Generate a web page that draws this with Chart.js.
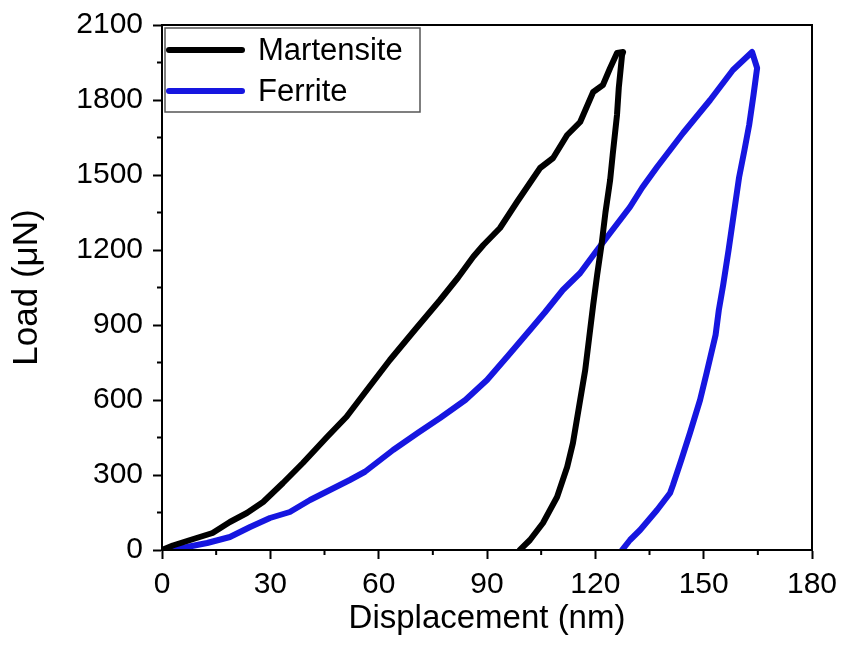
<!DOCTYPE html>
<html>
<head>
<meta charset="utf-8">
<script src="https://cdn.jsdelivr.net/npm/chart.js@4/dist/chart.umd.min.js"></script>
<style>
  html,body{margin:0;padding:0;background:#fff;}
  #wrap{width:841px;height:662px;}
</style>
</head>
<body>
<div id="wrap"><canvas id="chart" width="841" height="662"></canvas></div>
<script>
// nanoindentation load-displacement curves
const martensiteX=[0,3,7.8,14,18.8,23.5,28,33.5,39,45.7,51.1,57,63.1,70,77,82,86.2,89,93.6,98.3,104.7,108.3,112.2,115.8,119.4,122.1,124.1,126,127.7,127.4,126.5,126,124.8,124.1,122.8,121.8,120.5,119.4,118.3,117.2,115.8,113.8,112.2,109.4,105.5,101.9,99.1];
const martensiteY=[0,18,40,68,112,148,192,268,348,452,533,645,760,880,1000,1090,1173,1220,1288,1392,1528,1568,1660,1712,1832,1860,1928,1988,1992,1980,1850,1740,1580,1480,1350,1230,1100,980,850,720,600,428,332,212,108,40,0];

const ferriteX=[0,6.9,12.5,18.8,24.4,29.9,35.4,41,46.5,52,56.2,64,71,77,84,90,96,101.9,106,111,115.8,120,124.1,129.6,133,137.1,144.3,151.8,158.1,163.4,164.8,163.8,162.6,161.3,159.8,158.4,156.9,155.4,154.2,153.3,150.8,149,146.2,143.8,141.5,140.7,137.1,132.4,129.6,127.4];
const ferriteY=[0,12,28,52,92,128,152,200,240,280,313,400,470,528,600,680,780,880,950,1040,1108,1190,1268,1372,1450,1532,1668,1800,1920,1992,1928,1820,1700,1600,1490,1350,1200,1060,960,860,707,600,468,360,260,228,160,80,40,0];

const seriesNames=["Martensite","Ferrite"];
const xTicks=[0,30,60,90,120,150,180];
const yTicks=[0,300,600,900,1200,1500,1800,2100];

const FONT="'Liberation Sans', Arial, sans-serif";
const pts=(xs,ys)=>xs.map((x,i)=>({x:x,y:ys[i]}));

// minor ticks, top/right frame and the boxed legend
const extras={
  id:"extras",
  afterDraw(chart){
    const ctx=chart.ctx, a=chart.chartArea;
    const xs=chart.scales.x, ys=chart.scales.y;
    ctx.save();
    ctx.strokeStyle="#000";
    ctx.lineWidth=2;
    ctx.beginPath();
    for(let v=15;v<180;v+=30){
      const p=xs.getPixelForValue(v);
      ctx.moveTo(p,a.bottom);ctx.lineTo(p,a.bottom+5);
    }
    for(let v=150;v<2100;v+=300){
      const p=ys.getPixelForValue(v);
      ctx.moveTo(a.left,p);ctx.lineTo(a.left-5,p);
    }
    ctx.stroke();
    ctx.strokeRect(a.left,a.top,a.right-a.left,a.bottom-a.top);

    // legend
    const lx=a.left+3, ly=a.top+3;
    ctx.lineWidth=1.5;
    ctx.strokeStyle="#555";
    ctx.strokeRect(lx,ly,255,84);
    ctx.font="31px "+FONT;
    ctx.textBaseline="middle";
    ctx.fillStyle="#000";
    chart.data.datasets.forEach((d,i)=>{
      const y=ly+22+i*41;
      ctx.beginPath();
      ctx.lineWidth=6;
      ctx.lineCap="round";
      ctx.strokeStyle=d.borderColor;
      ctx.moveTo(lx+4,y);ctx.lineTo(lx+77,y);
      ctx.stroke();
      ctx.fillText(d.label,lx+93,y+1);
    });
    ctx.restore();
  }
};

new Chart(document.getElementById("chart"),{
  type:"line",
  data:{
    datasets:[
      {label:seriesNames[0],data:pts(martensiteX,martensiteY),borderColor:"#000000"},
      {label:seriesNames[1],data:pts(ferriteX,ferriteY),borderColor:"#1616e0"}
    ]
  },
  options:{
    responsive:false,
    animation:false,
    layout:{padding:{left:0,top:25,right:29,bottom:0}},
    elements:{
      point:{radius:0},
      line:{borderWidth:6,tension:0,borderJoinStyle:"round",borderCapStyle:"round"}
    },
    plugins:{legend:{display:false},tooltip:{enabled:false}},
    scales:{
      x:{
        type:"linear",min:0,max:180,
        afterBuildTicks(s){s.ticks=xTicks.map(v=>({value:v}));},
        afterFit(s){s.height=112;s.paddingRight=0;s.paddingLeft=0;},
        grid:{drawOnChartArea:false,drawTicks:true,tickLength:9,tickWidth:2,tickColor:"#000"},
        border:{display:true,color:"#000",width:2},
        ticks:{color:"#000",padding:8,maxRotation:0,font:{family:FONT,size:30},callback:v=>String(v)},
        title:{display:true,text:"Displacement (nm)",color:"#000",font:{family:FONT,size:33},padding:{top:0,bottom:23}}
      },
      y:{
        type:"linear",min:0,max:2100,
        afterBuildTicks(s){s.ticks=yTicks.map(v=>({value:v}));},
        afterFit(s){s.width=162;s.paddingTop=0;s.paddingBottom=0;},
        grid:{drawOnChartArea:false,drawTicks:true,tickLength:9,tickWidth:2,tickColor:"#000"},
        border:{display:true,color:"#000",width:2},
        ticks:{color:"#000",padding:10,font:{family:FONT,size:30},callback:v=>String(v)},
        title:{display:true,text:"Load (μN)",color:"#000",font:{family:FONT,size:35},padding:{top:6,bottom:0}}
      }
    }
  },
  plugins:[extras]
});
</script>
</body>
</html>
